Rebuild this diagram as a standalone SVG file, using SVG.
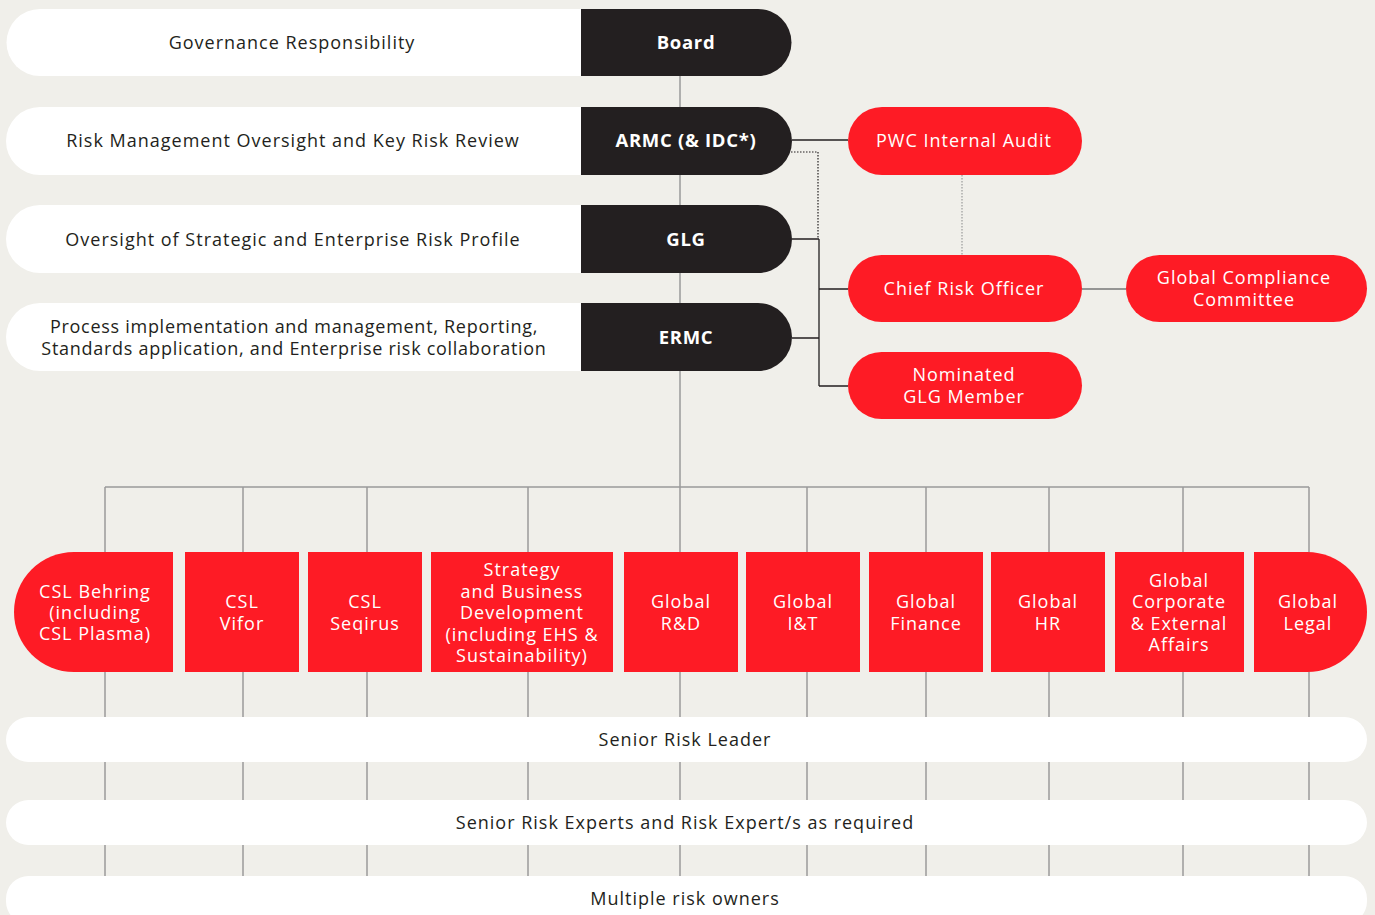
<svg xmlns="http://www.w3.org/2000/svg" width="1375" height="915" viewBox="0 0 1375 915">
<style>
.t{font-family:"Open Sans","Liberation Sans",sans-serif;font-size:18px;letter-spacing:1px;text-anchor:middle}
.dk{fill:#231f20}
.wh{fill:#ffffff}
.b{font-weight:700;font-size:18.5px;letter-spacing:0.7px}
.lbl{fill:#ffffff}
.red{fill:#fe1b25}
.blk{fill:#231f20}
.tight{letter-spacing:0.72px}
.g{stroke:#9a9a9a;stroke-width:1.5;fill:none}
.k{stroke:#231f20;stroke-width:1.3;fill:none}
.d{stroke:#231f20;stroke-width:1.2;stroke-dasharray:1.5 1.5;fill:none}
.dg{stroke:#9a9a9a;stroke-width:1.2;stroke-dasharray:1.5 1.5;fill:none}
</style>
<rect width="1375" height="915" fill="#f0efea"/>
<g id="connectors">
<path class="g" d="M680 76 V487"/>
<path class="g" d="M105 487 H1309"/>
<path class="g" d="M105 487 V915 M243 487 V915 M367 487 V915 M528 487 V915 M680 487 V915 M807 487 V915 M926 487 V915 M1049 487 V915 M1183 487 V915 M1309 487 V915"/>
<path class="k" d="M792 140 H848"/>
<path class="d" d="M782 152 H818 V239"/>
<path class="k" d="M792 239 H819 M792 338 H819 M819 239 V386 M819 289 H848 M819 386 H848"/>
<path class="dg" d="M962 175 V255"/>
<path class="g" d="M1082 289 H1126" style="stroke:#777"/>
</g>
<g id="row-board">
<path class="wh" d="M581 9 H40 A33.5 33.5 0 0 0 40 76 H581 Z"/>
<text class="t dk" x="292" y="48.5">Governance Responsibility</text>
<path class="blk" d="M581 9 H758 A33.5 33.5 0 0 1 758 76 H581 Z"/>
<text class="t b lbl" x="686" y="48.5">Board</text>
</g>
<g id="row-armc">
<path class="wh" d="M581 107 H40 A34 34 0 0 0 40 175 H581 Z"/>
<text class="t dk" x="293" y="147">Risk Management Oversight and Key Risk Review</text>
<path class="blk" d="M581 107 H758 A34 34 0 0 1 758 175 H581 Z"/>
<text class="t b lbl" x="686" y="147">ARMC (&amp; IDC*)</text>
</g>
<g id="row-glg">
<path class="wh" d="M581 205 H40 A34 34 0 0 0 40 273 H581 Z"/>
<text class="t dk" x="293" y="245.5">Oversight of Strategic and Enterprise Risk Profile</text>
<path class="blk" d="M581 205 H758 A34 34 0 0 1 758 273 H581 Z"/>
<text class="t b lbl" x="686" y="245.5">GLG</text>
</g>
<g id="row-ermc">
<path class="wh" d="M581 303 H40 A34 34 0 0 0 40 371 H581 Z"/>
<text class="t dk tight" x="294" y="332.5">Process implementation and management, Reporting,</text>
<text class="t dk tight" x="294" y="354.5">Standards application, and Enterprise risk collaboration</text>
<path class="blk" d="M581 303 H758 A34 34 0 0 1 758 371 H581 Z"/>
<text class="t b lbl" x="686" y="343.5">ERMC</text>
</g>
<g id="pwc">
<rect class="red" x="848" y="107" width="234" height="68" rx="34"/>
<text class="t lbl" x="964" y="147">PWC Internal Audit</text>
</g>
<g id="cro">
<rect class="red" x="848" y="255" width="234" height="67" rx="33.5"/>
<text class="t lbl" x="964" y="295">Chief Risk Officer</text>
</g>
<g id="gcc">
<rect class="red" x="1126" y="255" width="241" height="67" rx="33.5"/>
<text class="t lbl" x="1244" y="284">Global Compliance</text>
<text class="t lbl" x="1244" y="306">Committee</text>
</g>
<g id="nominated">
<rect class="red" x="848" y="352" width="234" height="67" rx="33.5"/>
<text class="t lbl" x="964" y="381">Nominated</text>
<text class="t lbl" x="964" y="403">GLG Member</text>
</g>
<g id="csl-behring">
<path class="red" d="M173 552 H74 A60 60 0 0 0 74 672 H173 Z"/>
<text class="t lbl" x="95" y="598">CSL Behring</text>
<text class="t lbl" x="95" y="619">(including</text>
<text class="t lbl" x="95" y="640">CSL Plasma)</text>
</g>
<g id="csl-vifor">
<rect class="red" x="185" y="552" width="114" height="120"/>
<text class="t lbl" x="242" y="608">CSL</text>
<text class="t lbl" x="242" y="630">Vifor</text>
</g>
<g id="csl-seqirus">
<rect class="red" x="308" y="552" width="114" height="120"/>
<text class="t lbl" x="365" y="608">CSL</text>
<text class="t lbl" x="365" y="630">Seqirus</text>
</g>
<g id="strategy">
<rect class="red" x="431" y="552" width="182" height="120"/>
<text class="t lbl" x="522" y="576">Strategy</text>
<text class="t lbl" x="522" y="597.5">and Business</text>
<text class="t lbl" x="522" y="619">Development</text>
<text class="t lbl" x="522" y="640.5">(including EHS &amp;</text>
<text class="t lbl" x="522" y="662">Sustainability)</text>
</g>
<g id="global-rd">
<rect class="red" x="624" y="552" width="114" height="120"/>
<text class="t lbl" x="681" y="608">Global</text>
<text class="t lbl" x="681" y="630">R&amp;D</text>
</g>
<g id="global-it">
<rect class="red" x="746" y="552" width="114" height="120"/>
<text class="t lbl" x="803" y="608">Global</text>
<text class="t lbl" x="803" y="630">I&amp;T</text>
</g>
<g id="global-finance">
<rect class="red" x="869" y="552" width="114" height="120"/>
<text class="t lbl" x="926" y="608">Global</text>
<text class="t lbl" x="926" y="630">Finance</text>
</g>
<g id="global-hr">
<rect class="red" x="991" y="552" width="114" height="120"/>
<text class="t lbl" x="1048" y="608">Global</text>
<text class="t lbl" x="1048" y="630">HR</text>
</g>
<g id="global-corporate">
<rect class="red" x="1115" y="552" width="129" height="120"/>
<text class="t lbl" x="1179" y="587">Global</text>
<text class="t lbl" x="1179" y="608">Corporate</text>
<text class="t lbl" x="1179" y="630">&amp; External</text>
<text class="t lbl" x="1179" y="651">Affairs</text>
</g>
<g id="global-legal">
<path class="red" d="M1254 552 H1307 A60 60 0 0 1 1307 672 H1254 Z"/>
<text class="t lbl" x="1308" y="608">Global</text>
<text class="t lbl" x="1308" y="630">Legal</text>
</g>
<g id="senior-risk-leader">
<rect class="wh" x="6" y="717" width="1361" height="45" rx="22.5"/>
<text class="t dk" x="685" y="746">Senior Risk Leader</text>
</g>
<g id="senior-risk-experts">
<rect class="wh" x="6" y="800" width="1361" height="45" rx="22.5"/>
<text class="t dk" x="685" y="829">Senior Risk Experts and Risk Expert/s as required</text>
</g>
<g id="risk-owners">
<rect class="wh" x="6" y="876" width="1361" height="48" rx="22.5"/>
<text class="t dk" x="685" y="905">Multiple risk owners</text>
</g>
</svg>
